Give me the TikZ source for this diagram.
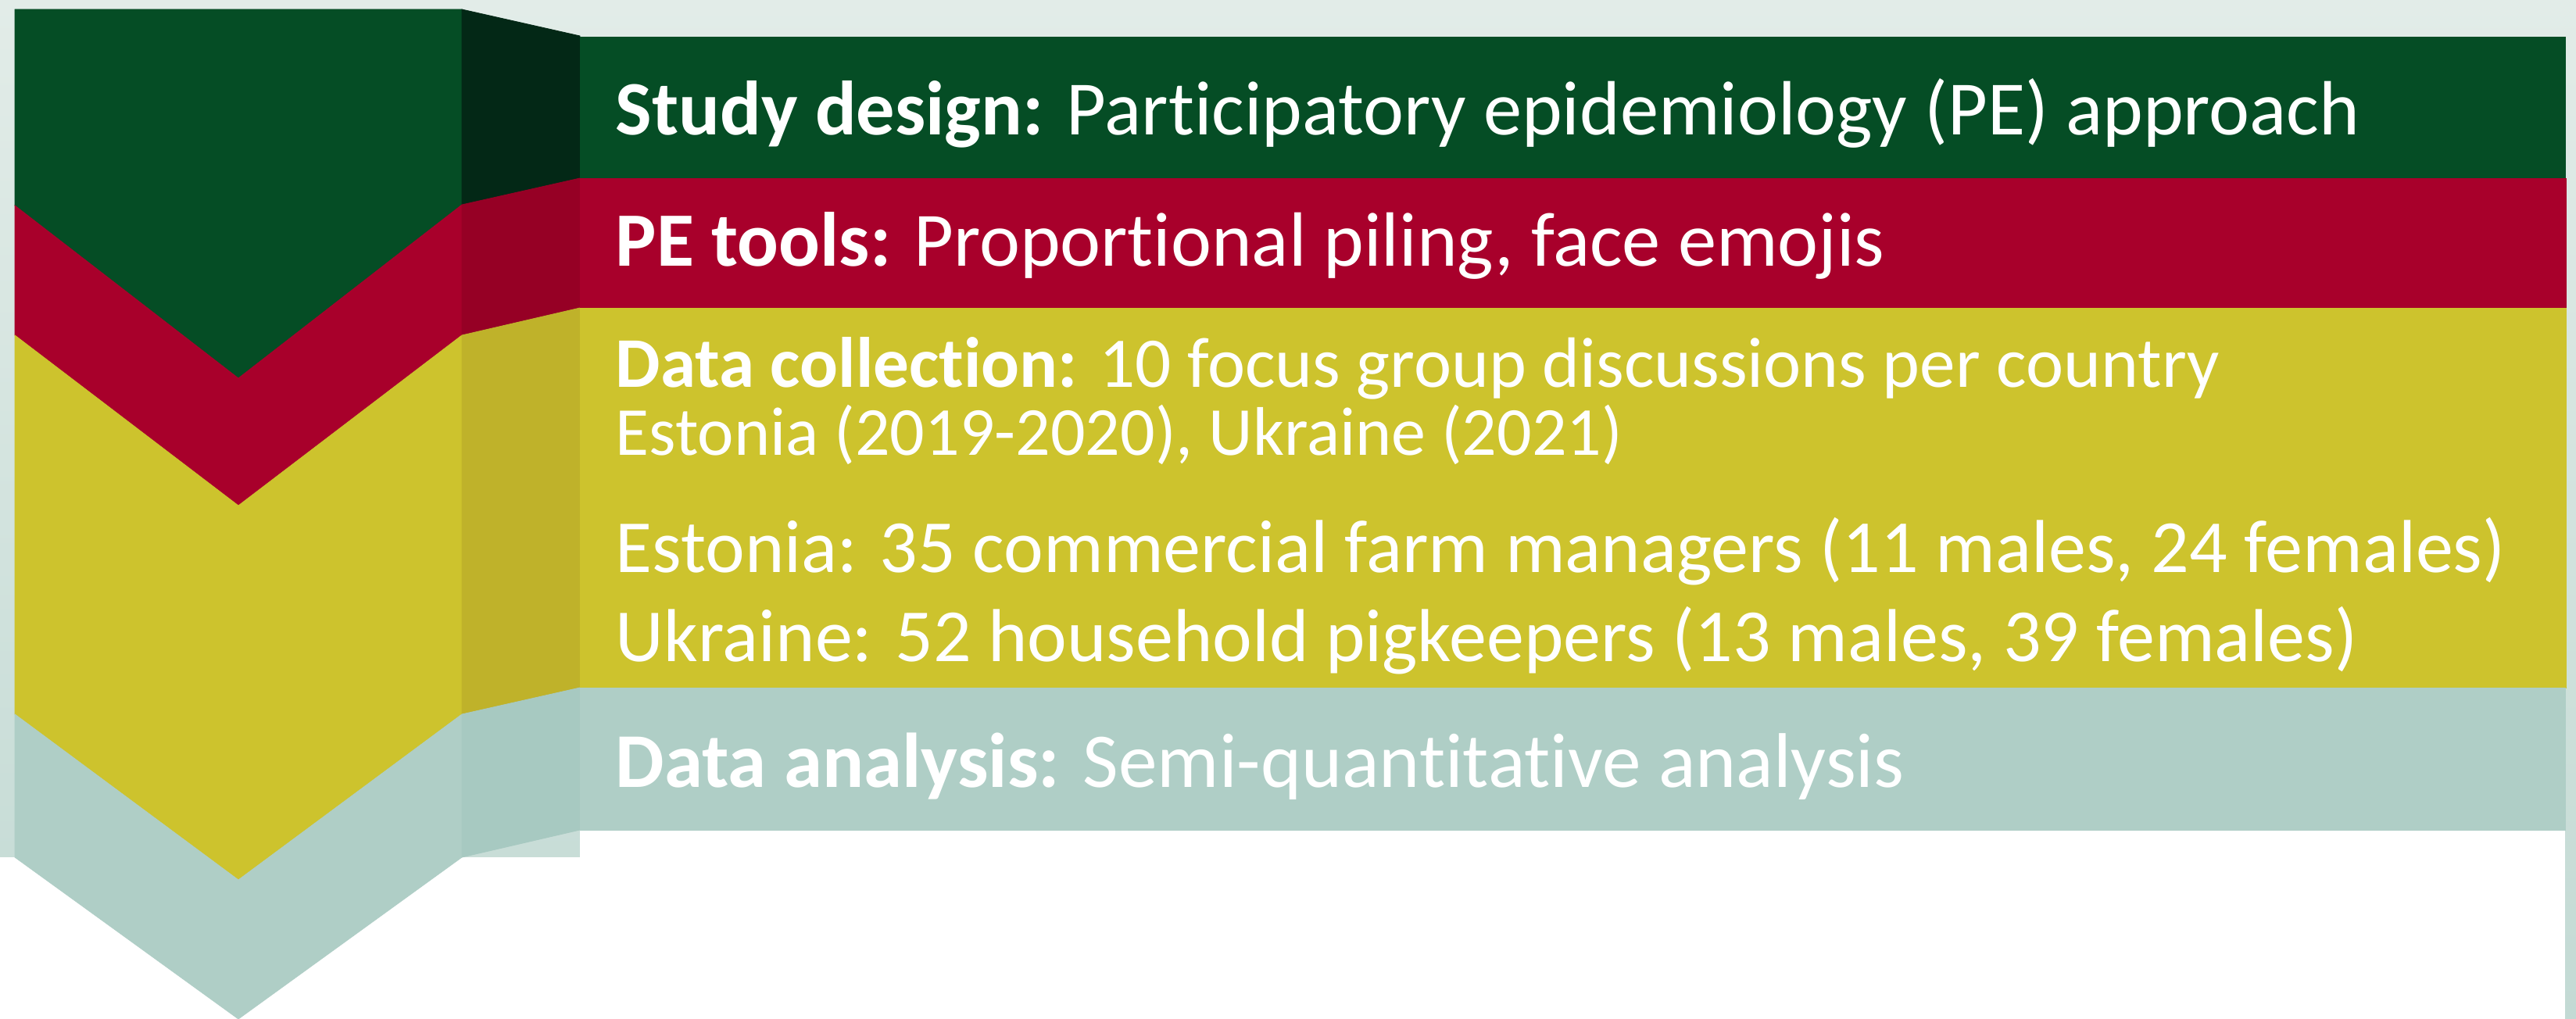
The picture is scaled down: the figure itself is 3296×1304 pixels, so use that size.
\documentclass[tikz,border=0pt]{standalone}
\usepackage{fontspec}
\setmainfont[Ligatures={NoCommon}]{Carlito}
\definecolor{bgtop}{HTML}{E2ECE8}
\definecolor{bgbot}{HTML}{C3DAD4}
\definecolor{cgreen}{HTML}{054D25}
\definecolor{cgreenD}{HTML}{032816}
\definecolor{cred}{HTML}{A8002B}
\definecolor{credD}{HTML}{960025}
\definecolor{cyel}{HTML}{CDC32D}
\definecolor{cyelD}{HTML}{BFB22A}
\definecolor{cteal}{HTML}{AFCEC6}
\definecolor{ctealD}{HTML}{A7C9C1}
\tikzset{
  band/.style={fill=#1, draw=#1, line width=0.2pt, line join=miter},
  txt/.style={anchor=base west, inner sep=0pt, text=white},
}
\newcommand{\sizeA}{\fontsize{24.6}{29}\selectfont}
\newcommand{\sizeB}{\fontsize{22.8}{27}\selectfont}
\newcommand{\sizeC}{\fontsize{22}{26}\selectfont}
\newcommand{\sizeD}{\fontsize{24}{29}\selectfont}
\newcommand{\sizeE}{\fontsize{24.8}{29}\selectfont}
\begin{document}
\begin{tikzpicture}[x=0.25pt, y=-0.25pt]
\useasboundingbox (0,0) rectangle (3296,1304);
% background
\shade[top color=bgtop, bottom color=bgbot] (0,0) rectangle (3296,1304);
\fill[white] (0,1097) rectangle (3282,1304);
\fill[white] (742,1062) rectangle (3282,1304);
% left chevron column
\path[band=cgreen] (19,12) -- (591,12) -- (591,262) -- (305,484) -- (19,263) -- cycle;
\path[band=cred] (19,263) -- (305,484) -- (591,262) -- (591,429) -- (305,647) -- (19,429) -- cycle;
\path[band=cyel] (19,429) -- (305,647) -- (591,429) -- (591,914) -- (305,1126) -- (19,914) -- cycle;
\path[band=cteal] (19,914) -- (305,1126) -- (591,914) -- (591,1097) -- (305,1304) -- (19,1097) -- cycle;
% fold column
\path[band=cgreenD] (591,12) -- (742,46) -- (742,228) -- (591,262) -- cycle;
\path[band=credD] (591,262) -- (742,228) -- (742,394) -- (591,429) -- cycle;
\path[band=cyelD] (591,429) -- (742,394) -- (742,880) -- (591,914) -- cycle;
\path[band=ctealD] (591,914) -- (742,880) -- (742,1062) -- (591,1097) -- cycle;
% right panels
\path[band=cgreen] (742,47) rectangle (3282,228);
\path[band=cred] (742,228) rectangle (3283,394);
\path[band=cyel] (742,394) rectangle (3283,880);
\path[band=cteal] (742,880) rectangle (3282,1062);
% texts
\node[txt] (sd) at (787,173) {\sizeA\textbf{Study design:} Participatory epidemiology (PE) approach};
\node[txt] (pe) at (787,341) {\sizeA\textbf{PE tools:} Proportional piling, face emojis};
\node[txt] (dc) at (787,496) {\sizeB\textbf{Data collection:} 10 focus group discussions per country};
\node[txt] (dy) at (787,583) {\sizeC Estonia (2019-2020), Ukraine (2021)};
\node[txt] (ee) at (787,732) {\sizeD Estonia: 35 commercial farm managers (11 males, 24 females)};
\node[txt] (uu) at (787,846) {\sizeD Ukraine: 52 household pigkeepers (13 males, 39 females)};
\node[txt] (da) at (787,1007) {\sizeE\textbf{Data analysis:} Semi-quantitative analysis};
\end{tikzpicture}
\end{document}
